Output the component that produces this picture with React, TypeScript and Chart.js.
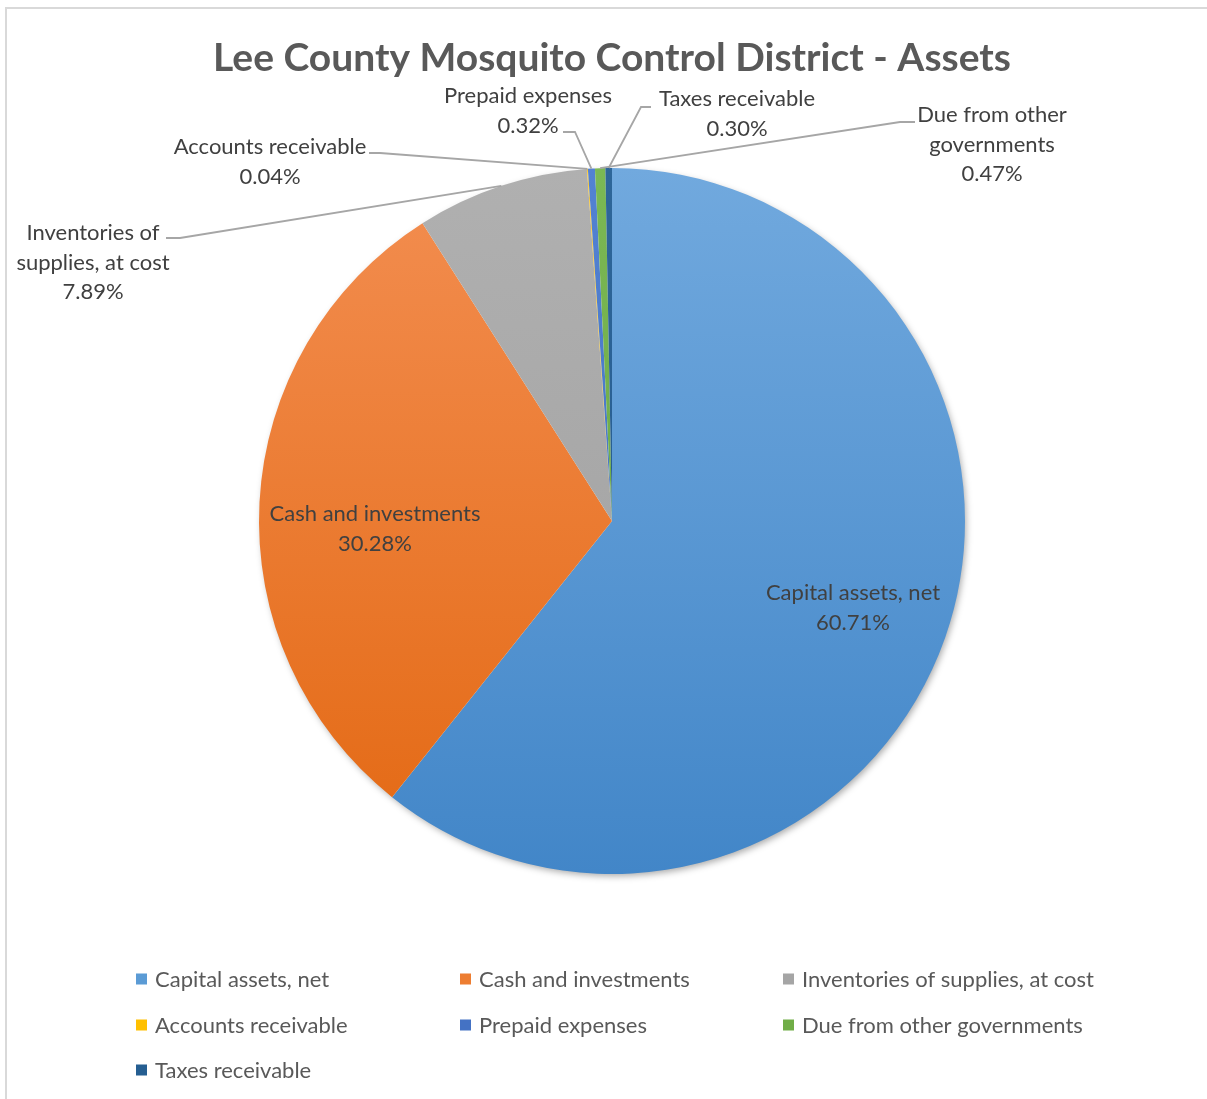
import React, { useEffect, useRef } from 'react';
import { Chart, registerables } from 'chart.js';

Chart.register(...registerables);

const TITLE = 'Lee County Mosquito Control District - Assets';

const categories = [
  'Capital assets, net',
  'Cash and investments',
  'Inventories of supplies, at cost',
  'Accounts receivable',
  'Prepaid expenses',
  'Due from other governments',
  'Taxes receivable',
];

const shares = [60.71, 30.28, 7.89, 0.04, 0.32, 0.47, 0.3];

const percentLabels = ['60.71%', '30.28%', '7.89%', '0.04%', '0.32%', '0.47%', '0.30%'];

const labelLines = [
  ['Capital assets, net'],
  ['Cash and investments'],
  ['Inventories of', 'supplies, at cost'],
  ['Accounts receivable'],
  ['Prepaid expenses'],
  ['Due from other', 'governments'],
  ['Taxes receivable'],
];

const baseColors = ['#5B9BD5', '#ED7D31', '#A5A5A5', '#FFC000', '#4472C4', '#70AD47', '#255E91'];
const topColors = ['#71A9DE', '#F38E51', '#B0B0B0', '#FFC61A', '#5382D2', '#7BB854', '#2E6699'];
const bottomColors = ['#4286C8', '#E36812', '#9E9E9E', '#F5B800', '#3D6BBB', '#65A03E', '#21568A'];

// label placement (text centre x, first line centre y) and leader-line elbows
const labelLayout: { x: number; y: number; lead?: number[][] }[] = [
  { x: 853, y: 593 },
  { x: 375, y: 514 },
  { x: 93, y: 233, lead: [[166, 238], [180, 238]] },
  { x: 270, y: 147, lead: [[369, 153], [380, 153]] },
  { x: 528, y: 96, lead: [[563, 132], [575, 132]] },
  { x: 992, y: 115, lead: [[915, 122], [900, 122]] },
  { x: 737, y: 99, lead: [[651, 107], [641, 107]] },
];

const legendCols = [136, 460, 783];
const legendRows = [979, 1025, 1070];

const FONT = 'Lato, "Open Sans", sans-serif';
const LABEL_SIZE = 22;
const LINE_H = 29.5;
const TITLE_SIZE = 39;
const TITLE_POS = { x: 612, y: 58 };

const shadowPlugin = {
  id: 'pieShadow',
  beforeDatasetsDraw(chart: any) {
    const arc = chart.getDatasetMeta(0).data[0];
    if (!arc) return;
    const ctx = chart.ctx;
    ctx.save();
    ctx.shadowColor = 'rgba(0,0,0,0.35)';
    ctx.shadowBlur = 7;
    ctx.shadowOffsetX = 2;
    ctx.shadowOffsetY = 3;
    ctx.fillStyle = '#ffffff';
    ctx.beginPath();
    ctx.arc(arc.x, arc.y, arc.outerRadius - 1, 0, Math.PI * 2);
    ctx.fill();
    ctx.restore();
  },
};

const labelPlugin = {
  id: 'pieLabels',
  afterDatasetsDraw(chart: any) {
    const ctx = chart.ctx;
    const meta = chart.getDatasetMeta(0);
    ctx.save();
    ctx.strokeStyle = '#A6A6A6';
    ctx.lineWidth = 1.8;
    meta.data.forEach((arc: any, i: number) => {
      const lay = labelLayout[i];
      if (!lay.lead) return;
      const mid = (arc.startAngle + arc.endAngle) / 2;
      const ex = arc.x + Math.cos(mid) * arc.outerRadius;
      const ey = arc.y + Math.sin(mid) * arc.outerRadius;
      ctx.beginPath();
      ctx.moveTo(lay.lead[0][0], lay.lead[0][1]);
      lay.lead.slice(1).forEach((p) => ctx.lineTo(p[0], p[1]));
      ctx.lineTo(ex, ey);
      ctx.stroke();
    });
    ctx.fillStyle = '#404040';
    ctx.font = `${LABEL_SIZE}px ${FONT}`;
    ctx.textAlign = 'center';
    ctx.textBaseline = 'middle';
    labelLines.forEach((lines, i) => {
      const lay = labelLayout[i];
      const all = [...lines, percentLabels[i]];
      all.forEach((t, k) => ctx.fillText(t, lay.x, lay.y + k * LINE_H));
    });
    ctx.restore();
  },
  afterDraw(chart: any) {
    const ctx = chart.ctx;
    ctx.save();
    ctx.fillStyle = '#595959';
    ctx.font = `bold ${TITLE_SIZE}px ${FONT}`;
    ctx.textAlign = 'center';
    ctx.textBaseline = 'middle';
    ctx.fillText(TITLE, TITLE_POS.x, TITLE_POS.y);
    ctx.font = `${LABEL_SIZE}px ${FONT}`;
    ctx.textAlign = 'left';
    categories.forEach((c, i) => {
      const x = legendCols[i % 3];
      const y = legendRows[Math.floor(i / 3)];
      ctx.fillStyle = baseColors[i];
      ctx.fillRect(x, y - 5.5, 11, 11);
      ctx.fillStyle = '#595959';
      ctx.fillText(c, x + 19, y + 1);
    });
    ctx.restore();
  },
};

export default function App() {
  const ref = useRef<HTMLCanvasElement>(null);
  useEffect(() => {
    document.body.style.margin = '0';
    const canvas = ref.current!;
    const chart = new Chart(canvas, {
      type: 'pie',
      data: {
        labels: categories,
        datasets: [
          {
            data: shares,
            borderWidth: 0,
            backgroundColor: (c: any) => {
              const i = c.dataIndex;
              const area = c.chart.chartArea;
              if (!area) return baseColors[i];
              const g = c.chart.ctx.createLinearGradient(0, area.top, 0, area.bottom);
              g.addColorStop(0, topColors[i]);
              g.addColorStop(1, bottomColors[i]);
              return g;
            },
          },
        ],
      },
      options: {
        responsive: false,
        animation: false,
        events: [],
        devicePixelRatio: 1,
        layout: { padding: { top: 168, left: 259, right: 242, bottom: 225 } },
        plugins: {
          legend: { display: false },
          tooltip: { enabled: false },
          title: { display: false },
        },
      },
      plugins: [shadowPlugin, labelPlugin],
    });
    return () => chart.destroy();
  }, []);
  return (
    <div style={{ position: 'relative', width: 1207, height: 1099, background: '#fff', overflow: 'hidden' }}>
      <canvas ref={ref} width={1207} height={1099} style={{ display: 'block', width: 1207, height: 1099 }} />
      <div
        style={{
          position: 'absolute',
          left: 5,
          top: 7,
          right: 0,
          bottom: 0,
          borderTop: '2px solid #D9D9D9',
          borderLeft: '2px solid #D9D9D9',
          pointerEvents: 'none',
        }}
      />
    </div>
  );
}
